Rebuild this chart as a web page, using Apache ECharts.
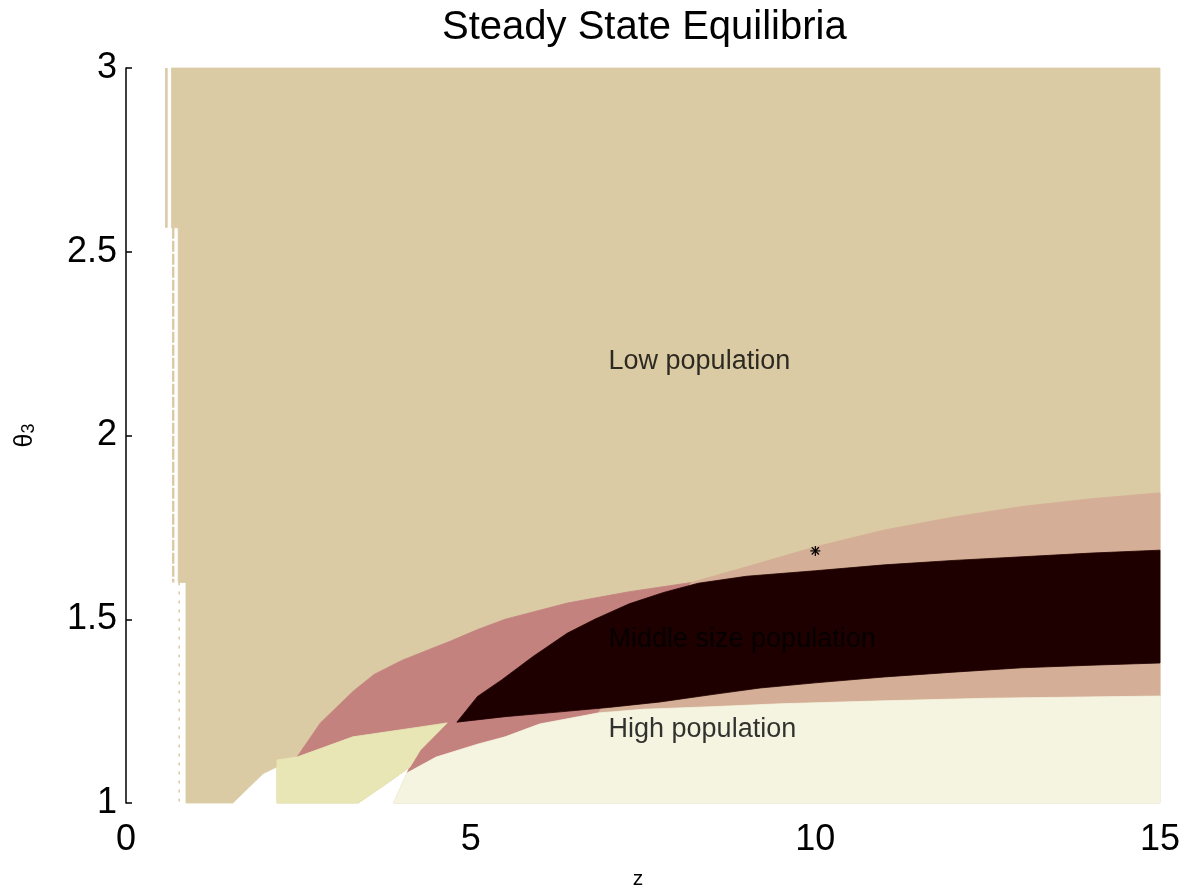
<!DOCTYPE html>
<html><head><meta charset="utf-8">
<script src="https://cdn.jsdelivr.net/npm/echarts@6/dist/echarts.min.js"></script>
<style>html,body{margin:0;padding:0;background:#fff}#c{width:1186px;height:890px}</style>
</head><body><div id="c"></div>
<script>
// ---- axis ticks ----
const xTicks = [0, 5, 10, 15];
const xTickLabels = ['0', '5', '10', '15'];
const yTicks = [1, 1.5, 2, 2.5, 3];
const yTickLabels = ['1', '1.5', '2', '2.5', '3'];

// ---- region boundaries (z, theta3) ----
// lower edge of the "Low population" region (top of the transition band)
const lowEdgeZ = [2.48, 2.82, 3.3, 3.6, 4.0, 4.4, 4.7, 5.1, 5.5, 6.4, 7.3, 8.2, 9.1, 10.0, 11.0, 12.0, 13.0, 14.0, 15.0];
const lowEdgeT = [1.125, 1.218, 1.305, 1.35, 1.388, 1.418, 1.44, 1.472, 1.50, 1.544, 1.575, 1.60, 1.648, 1.697, 1.743, 1.778, 1.807, 1.828, 1.844];
// upper edge of the "Middle size population" region
const midTopZ = [4.8, 5.1, 5.45, 5.9, 6.4, 6.8, 7.3, 7.8, 8.3, 9.0, 10.0, 11.0, 12.0, 13.0, 14.0, 15.0];
const midTopT = [1.22, 1.29, 1.335, 1.398, 1.462, 1.50, 1.542, 1.573, 1.598, 1.617, 1.632, 1.648, 1.660, 1.670, 1.680, 1.688];
// lower edge of the "Middle size population" region
const midBotZ = [4.8, 5.5, 6.3, 7.0, 7.75, 8.5, 9.2, 10.0, 11.0, 12.0, 13.0, 14.0, 15.0];
const midBotT = [1.22, 1.235, 1.248, 1.26, 1.275, 1.295, 1.313, 1.327, 1.343, 1.356, 1.368, 1.375, 1.381];
// upper edge of the "High population" region
const highTopZ = [3.88, 4.08, 4.5, 5.1, 5.5, 6.0, 6.85, 7.5, 8.5, 9.5, 11.0, 12.5, 15.0];
const highTopT = [1.0, 1.082, 1.125, 1.16, 1.18, 1.215, 1.245, 1.255, 1.262, 1.27, 1.278, 1.285, 1.291];
// small pale-yellow region at low z
const yellowZ = [2.19, 3.37, 3.79, 4.12, 4.27, 4.66, 4.27, 3.29, 2.57, 2.48, 2.19];
const yellowT = [1.0, 1.0, 1.054, 1.098, 1.144, 1.218, 1.207, 1.18, 1.131, 1.125, 1.117];
// outline of the computed (non-white) domain, left and bottom parts
const domainZ = [0.87, 1.55, 1.99, 2.34, 2.19, 2.19, 3.37, 3.79, 4.12, 4.08, 3.88, 15, 15, 0.66, 0.66, 0.757, 0.757, 0.87];
const domainT = [1.0, 1.0, 1.08, 1.112, 1.112, 1.0, 1.0, 1.054, 1.098, 1.082, 1.0, 1.0, 3.0, 3.0, 2.565, 2.565, 1.60, 1.60];
// thin strips at the far left
const stripZ = [0.586, 0.586];
const stripT = [3.0, 2.565];
const dashZ = [0.685, 0.685];
const dashT = [2.565, 1.60];
const dotZ = [0.772, 0.772];
const dotT = [1.60, 1.0];
// region labels
const labelZ = [7, 7, 7];
const labelT = [2.2, 1.445, 1.2];
const labelText = ['Low population', 'Middle size population', 'High population'];
// marked point
const starPoint = [10, 1.686];

const C = {
  low: '#DBCBA4', rose: '#C4827F', blush: '#D4AE96', mid: '#1E0000',
  high: '#F5F4E0', yellow: '#E8E6B5'
};

function pts(zs, ts, from, to) {
  const out = [];
  if (from <= to) { for (let i = from; i <= to; i++) out.push([zs[i], ts[i]]); }
  else { for (let i = from; i >= to; i--) out.push([zs[i], ts[i]]); }
  return out;
}
function poly(name, points, color, zl) {
  return {
    type: 'custom', name, coordinateSystem: 'cartesian2d', silent: true, z: zl,
    data: [[points[0][0], points[0][1]]],
    renderItem: (params, api) => ({
      type: 'polygon',
      shape: { points: points.map(p => api.coord(p)) },
      style: { fill: color, stroke: color, lineWidth: 0.8 }
    })
  };
}
const nA = lowEdgeZ.length, nD = highTopZ.length;
const iA = lowEdgeZ.indexOf(8.2), iD = highTopZ.indexOf(6.85);

const domainPts = pts(domainZ, domainT, 0, domainZ.length - 1);
const rosePts = pts(lowEdgeZ, lowEdgeT, 0, iA)
  .concat(pts(highTopZ, highTopT, iD, 1))
  .concat(pts(yellowZ, yellowT, 3, 8));
const blushPts = pts(lowEdgeZ, lowEdgeT, iA, nA - 1)
  .concat(pts(highTopZ, highTopT, nD - 1, iD));
const midPts = pts(midTopZ, midTopT, 0, midTopZ.length - 1)
  .concat(pts(midBotZ, midBotT, midBotZ.length - 1, 1));
const highPts = pts(highTopZ, highTopT, 0, nD - 1).concat([[15, 1.0]]);
const yellowPts = pts(yellowZ, yellowT, 0, yellowZ.length - 1);

const sans = "'Liberation Sans', Arial, sans-serif";

const option = {
  backgroundColor: '#ffffff',
  animation: false,
  title: {
    text: 'Steady State Equilibria', left: 437, top: 3,
    textStyle: { fontFamily: sans, fontSize: 40, fontWeight: 'normal', color: '#000' }
  },
  grid: { left: 126, right: 26, top: 68, bottom: 87, containLabel: false, outerBoundsMode: 'none' },
  xAxis: {
    type: 'value', min: 0, max: 15, interval: 5,
    name: 'z', nameLocation: 'middle', nameGap: 66,
    nameTextStyle: { fontFamily: sans, fontSize: 21, color: '#000', padding: [0, 10, 0, 0] },
    axisLine: { show: false }, axisTick: { show: false }, splitLine: { show: false },
    axisLabel: {
      margin: 19, fontFamily: sans, fontSize: 36, color: '#000',
      formatter: v => xTickLabels[xTicks.indexOf(v)]
    }
  },
  yAxis: {
    type: 'value', min: 1, max: 3, interval: 0.5,
    name: '{th|θ}{sub|3}', nameLocation: 'middle', nameRotate: 90, nameGap: 88,
    nameTextStyle: {
      color: '#000', fontFamily: sans,
      rich: {
        th: { fontFamily: sans, fontSize: 25, lineHeight: 26, color: '#000' },
        sub: { fontFamily: sans, fontSize: 18, lineHeight: 18, padding: [14, 0, 0, 0], verticalAlign: 'bottom', color: '#000' }
      }
    },
    axisLine: { show: true, lineStyle: { color: '#000', width: 1.5 } },
    axisTick: { show: true, inside: true, length: 6, lineStyle: { color: '#000', width: 1.5 } },
    splitLine: { show: false },
    axisLabel: {
      margin: 9, fontFamily: sans, fontSize: 36, color: '#000',
      formatter: v => yTickLabels[yTicks.indexOf(v)]
    }
  },
  series: [
    poly('low', domainPts, C.low, 1),
    poly('rose', rosePts, C.rose, 2),
    poly('blush', blushPts, C.blush, 2),
    poly('mid', midPts, C.mid, 3),
    poly('high', highPts, C.high, 3),
    poly('yellow', yellowPts, C.yellow, 3),
    {
      type: 'line', silent: true, z: 2, symbol: 'none',
      data: stripZ.map((z, i) => [z, stripT[i]]),
      lineStyle: { color: C.low, width: 2.6 }
    },
    {
      type: 'line', silent: true, z: 2, symbol: 'none',
      data: dashZ.map((z, i) => [z, dashT[i]]),
      lineStyle: { color: C.low, width: 2.4, type: [11, 2] }
    },
    {
      type: 'line', silent: true, z: 2, symbol: 'none',
      data: dotZ.map((z, i) => [z, dotT[i]]),
      lineStyle: { color: C.low, width: 1.5, type: [3, 6] }
    },
    {
      type: 'scatter', silent: true, z: 5, symbolSize: 0,
      data: labelZ.map((z, i) => ({ value: [z, labelT[i]], name: labelText[i] })),
      label: {
        show: true, position: 'right', distance: 0, formatter: p => p.name,
        fontFamily: sans, fontSize: 27, color: '#000'
      }
    },
    {
      type: 'custom', silent: true, z: 6, coordinateSystem: 'cartesian2d',
      data: [starPoint],
      renderItem: (params, api) => {
        const c = api.coord([api.value(0), api.value(1)]);
        const r = 5, d = 3.6;
        const seg = (x1, y1, x2, y2) => ({ type: 'line', shape: { x1: c[0] + x1, y1: c[1] + y1, x2: c[0] + x2, y2: c[1] + y2 }, style: { stroke: '#000', lineWidth: 1.2 } });
        return { type: 'group', children: [seg(-r, 0, r, 0), seg(0, -r, 0, r), seg(-d, -d, d, d), seg(-d, d, d, -d)] };
      }
    }
  ]
};
const chart = echarts.init(document.getElementById('c'), null, { renderer: 'canvas' });
chart.setOption(option);
</script>
</body></html>
